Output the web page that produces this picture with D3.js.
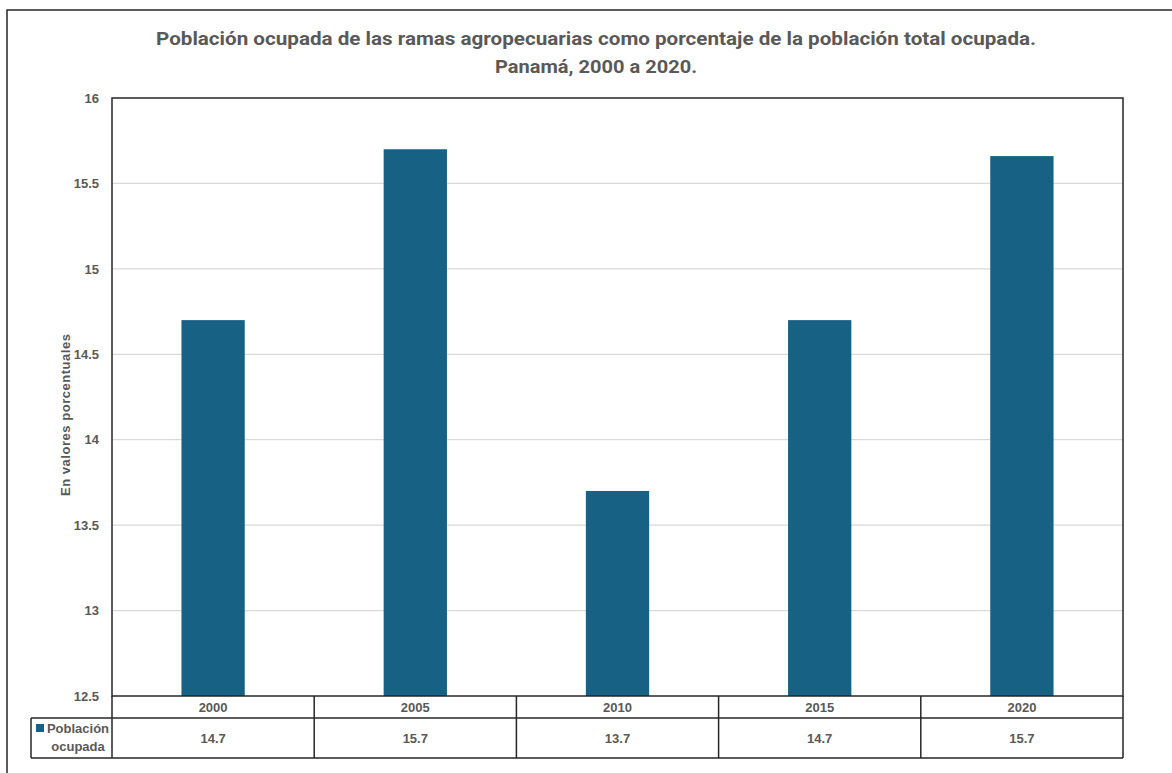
<!DOCTYPE html>
<html>
<head>
<meta charset="utf-8">
<script src="https://cdn.jsdelivr.net/npm/d3@7"></script>
<style>
  html, body { margin: 0; padding: 0; background: #fff; }
  svg { display: block; }
</style>
</head>
<body>
<svg id="chart" width="1172" height="773"></svg>
<script>
// Data
const years = ["2000", "2005", "2010", "2015", "2020"];
const values = [14.7, 15.7, 13.7, 14.7, 15.66];
const yTicks = [12.5, 13, 13.5, 14, 14.5, 15, 15.5, 16];
const seriesName = ["Población", "ocupada"];
const titleLines = [
  "Población ocupada de las ramas agropecuarias como porcentaje de la población total ocupada.",
  "Panamá, 2000 a 2020."
];
const yTitle = "En valores porcentuales";

const W = 1172, H = 773;
const plot = { left: 112, right: 1123, top: 98, bottom: 696 };
const table = { left: 31, headBottom: 718, bottom: 758 };
const barColor = "#176185";
const textColor = "#595959";
const lineColor = "#262626";
const bodyFont = "'Liberation Sans', Arial, sans-serif";

const svg = d3.select("#chart");

// Outer frame
svg.append("rect")
  .attr("x", 7).attr("y", 10).attr("width", W + 20).attr("height", H + 20)
  .attr("fill", "#fff").attr("stroke", lineColor).attr("stroke-width", 1.5);

// Title
const title = svg.append("text")
  .attr("text-anchor", "middle")
  .attr("font-family", "'Liberation Sans Narrow', 'Roboto', sans-serif")
  .attr("font-weight", "bold")
  .attr("font-size", 19)
  .attr("fill", textColor);
title.append("tspan").attr("x", 596).attr("y", 45)
  .attr("textLength", 880).attr("lengthAdjust", "spacingAndGlyphs")
  .text(titleLines[0]);
title.append("tspan").attr("x", 596).attr("y", 73)
  .attr("textLength", 202).attr("lengthAdjust", "spacingAndGlyphs")
  .text(titleLines[1]);

// Scales
const x = d3.scaleBand().domain(years).range([plot.left, plot.right]).paddingInner(0).paddingOuter(0);
const y = d3.scaleLinear().domain([12.5, 16]).range([plot.bottom, plot.top]);

// Gridlines
svg.append("g")
  .selectAll("line")
  .data(yTicks.filter(t => t > 12.5 && t < 16))
  .join("line")
  .attr("x1", plot.left).attr("x2", plot.right)
  .attr("y1", d => y(d)).attr("y2", d => y(d))
  .attr("stroke", "#d9d9d9").attr("stroke-width", 1.2);

// Y axis labels
const yAxis = d3.axisLeft(y).tickValues(yTicks).tickSize(0).tickPadding(13).tickFormat(d3.format(""));
const yg = svg.append("g").attr("transform", `translate(${plot.left},0)`).call(yAxis);
yg.select(".domain").remove();
yg.selectAll("text")
  .attr("font-family", bodyFont)
  .attr("font-weight", "bold")
  .attr("font-size", 13)
  .attr("fill", textColor);

// Y axis title
svg.append("text")
  .attr("transform", `translate(70,415) rotate(-90)`)
  .attr("text-anchor", "middle")
  .attr("font-family", bodyFont)
  .attr("font-weight", "bold")
  .attr("font-size", 13)
  .attr("fill", textColor)
  .attr("textLength", 162)
  .attr("lengthAdjust", "spacing")
  .text(yTitle);

// Bars
const barW = x.bandwidth() * 0.313;
svg.append("g")
  .selectAll("rect")
  .data(values)
  .join("rect")
  .attr("x", (d, i) => x(years[i]) + (x.bandwidth() - barW) / 2)
  .attr("width", barW)
  .attr("y", d => y(d))
  .attr("height", d => y(12.5) - y(d))
  .attr("fill", barColor);

// Plot frame
svg.append("rect")
  .attr("x", plot.left).attr("y", plot.top)
  .attr("width", plot.right - plot.left).attr("height", plot.bottom - plot.top)
  .attr("fill", "none").attr("stroke", lineColor).attr("stroke-width", 1.5);

// Data table
const tg = svg.append("g");
const fmt = d3.format(".1f");
tg.append("line").attr("x1", table.left).attr("x2", plot.right)
  .attr("y1", table.headBottom).attr("y2", table.headBottom)
  .attr("stroke", lineColor).attr("stroke-width", 1.5);
tg.append("line").attr("x1", table.left).attr("x2", plot.right)
  .attr("y1", table.bottom).attr("y2", table.bottom)
  .attr("stroke", lineColor).attr("stroke-width", 1.5);
tg.append("line").attr("x1", table.left).attr("x2", table.left)
  .attr("y1", table.headBottom).attr("y2", table.bottom)
  .attr("stroke", lineColor).attr("stroke-width", 1.5);
const colEdges = years.map(d => x(d)).concat([plot.right]);
tg.selectAll("line.col")
  .data(colEdges)
  .join("line")
  .attr("class", "col")
  .attr("x1", d => d).attr("x2", d => d)
  .attr("y1", plot.bottom).attr("y2", table.bottom)
  .attr("stroke", lineColor).attr("stroke-width", 1.5);

const cellFont = sel => sel
  .attr("font-family", bodyFont)
  .attr("font-weight", "bold")
  .attr("font-size", 13)
  .attr("fill", textColor)
  .attr("text-anchor", "middle");

tg.selectAll("text.year")
  .data(years)
  .join("text")
  .attr("class", "year")
  .attr("x", d => x(d) + x.bandwidth() / 2)
  .attr("y", 712)
  .call(cellFont)
  .text(d => d);

tg.selectAll("text.val")
  .data(values)
  .join("text")
  .attr("class", "val")
  .attr("x", (d, i) => x(years[i]) + x.bandwidth() / 2)
  .attr("y", 743)
  .call(cellFont)
  .text(d => fmt(d));

// Legend key in the table
tg.append("rect")
  .attr("x", 36).attr("y", 724).attr("width", 8).attr("height", 8)
  .attr("fill", barColor);
const leg = tg.append("text").call(cellFont);
leg.append("tspan").attr("x", 78).attr("y", 733).text(seriesName[0]);
leg.append("tspan").attr("x", 78).attr("y", 751).text(seriesName[1]);
</script>
</body>
</html>
